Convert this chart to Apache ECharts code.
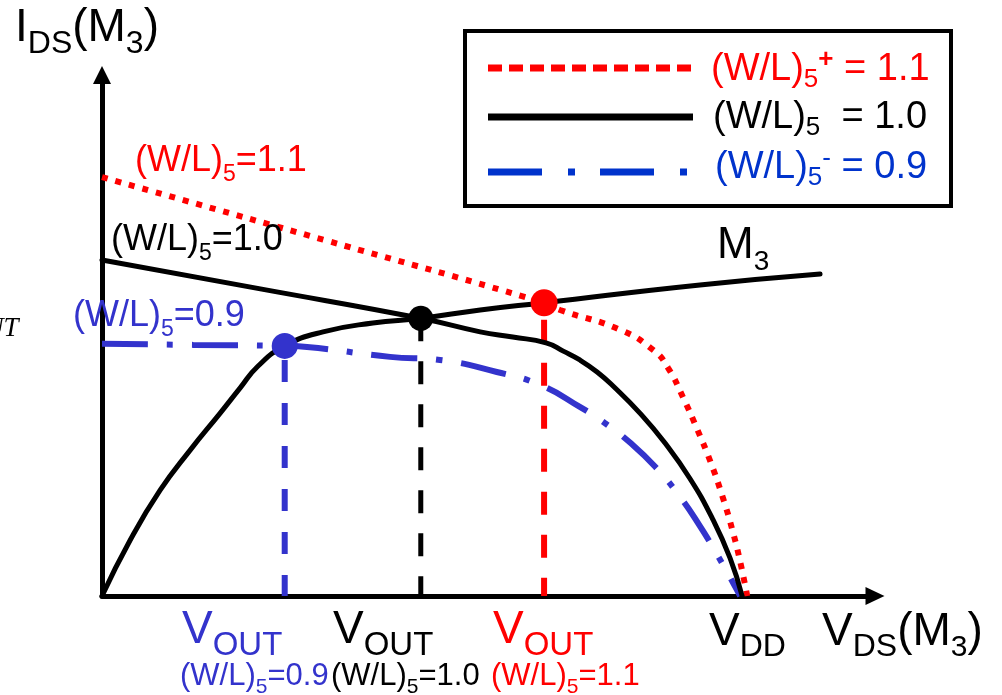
<!DOCTYPE html>
<html>
<head>
<meta charset="utf-8">
<script src="https://cdn.jsdelivr.net/npm/echarts@6/dist/echarts.min.js"></script>
<style>
  html, body { margin: 0; padding: 0; background: #fff; }
  #chart { width: 1002px; height: 695px; }
</style>
</head>
<body>
<div id="chart"></div>
<script>
// Axis extents: V_DS in units of V_DD, I_DS normalised
const X_MAX = 1.21;
const Y_MAX = 1.0;

// M3 output characteristic [V_DS, I_DS]
const m3Curve = [
  [0, 0], [0.044, 0.107], [0.091, 0.203], [0.138, 0.280], [0.185, 0.351],
  [0.216, 0.399], [0.244, 0.441], [0.286, 0.480], [0.346, 0.507],
  [0.424, 0.524], [0.499, 0.533], [0.592, 0.549], [0.692, 0.563], [0.936, 0.597],
  [1.124, 0.618]
];

// Load curves for the three (W/L)5 ratios
const load10 = [
  [0, 0.645], [0.250, 0.589], [0.499, 0.533], [0.592, 0.507], [0.643, 0.497],
  [0.695, 0.486], [0.722, 0.470], [0.748, 0.453], [0.775, 0.430], [0.800, 0.403],
  [0.842, 0.351], [0.881, 0.294], [0.920, 0.226], [0.955, 0.150], [0.983, 0.073],
  [1.002, 0]
];
const load11 = [
  [0, 0.804], [0.346, 0.684], [0.692, 0.563], [0.717, 0.549], [0.811, 0.511],
  [0.863, 0.472], [0.886, 0.438], [0.910, 0.380], [0.931, 0.322], [0.952, 0.259],
  [0.971, 0.192], [0.988, 0.121], [1.000, 0.060], [1.010, 0]
];
const load09 = [
  [0, 0.484], [0.143, 0.482], [0.286, 0.480], [0.321, 0.478], [0.451, 0.459],
  [0.529, 0.453], [0.618, 0.430], [0.686, 0.405], [0.748, 0.363], [0.787, 0.332],
  [0.827, 0.294], [0.866, 0.248], [0.905, 0.190], [0.936, 0.134], [0.964, 0.077],
  [0.988, 0.025], [0.999, 0]
];

// Operating points [V_OUT, I_DS]
const op09 = [0.286, 0.480];
const op10 = [0.499, 0.533];
const op11 = [0.692, 0.563];

const RED = '#ff0000';
const BLUE = '#3333cc';
const LBLUE = '#0033cc';
const BLACK = '#000000';
const SANS = '"Liberation Sans", Arial, sans-serif';
const SERIF = '"Liberation Serif", "Times New Roman", serif';

// Text with sub/superscripts: parts = [text, size, baselineShift, weight]
const measureCtx = document.createElement('canvas').getContext('2d');
function label(x, baseline, color, parts, family, fontStyle) {
  family = family || SANS;
  fontStyle = fontStyle || 'normal';
  const children = [];
  let cx = 0;
  parts.forEach(function (p) {
    const txt = p[0], size = p[1], dy = p[2] || 0, weight = p[3] || 'normal';
    measureCtx.font = fontStyle + ' ' + weight + ' ' + size + 'px ' + family;
    children.push({
      type: 'text',
      x: cx,
      y: dy - 0.33 * size,
      z: 100,
      silent: true,
      style: {
        text: txt, fill: color, fontSize: size, fontFamily: family,
        fontWeight: weight, fontStyle: fontStyle,
        align: 'left', verticalAlign: 'middle'
      }
    });
    cx += measureCtx.measureText(txt).width;
  });
  return { type: 'group', x: x, y: baseline, children: children };
}

function dropLine(pt, color, width, dash, offset) {
  return {
    type: 'line', data: [[pt[0], pt[1]], [pt[0], 0]],
    symbol: 'none', silent: true, z: 2,
    lineStyle: { color: color, width: width, type: dash, dashOffset: offset, cap: 'butt' }
  };
}

function curve(data, z, lineStyle) {
  return {
    type: 'line', data: data, smooth: 0.5, symbol: 'none', silent: true, z: z,
    lineStyle: lineStyle
  };
}

const chart = echarts.init(document.getElementById('chart'), null, { renderer: 'canvas' });

const axisCommon = {
  type: 'value', min: 0,
  axisLine: { show: true, onZero: false, symbol: ['none', 'triangle'],
              lineStyle: { color: BLACK, width: 5 } },
  axisTick: { show: false }, axisLabel: { show: false }, splitLine: { show: false }
};

chart.setOption({
  animation: false,
  backgroundColor: '#ffffff',
  grid: { left: 102, right: 127, top: 75, bottom: 99, containLabel: false },
  xAxis: Object.assign({}, axisCommon, { max: X_MAX,
    axisLine: Object.assign({}, axisCommon.axisLine, { symbolSize: [18, 19] }) }),
  yAxis: Object.assign({}, axisCommon, { max: Y_MAX,
    axisLine: Object.assign({}, axisCommon.axisLine, { symbolSize: [18, 18] }) }),
  series: [
    dropLine(op09, BLUE, 6, [22, 21], 29),
    dropLine(op10, BLACK, 5, [23, 20], 0),
    dropLine(op11, RED, 6, [23, 20], 26),
    curve(load11, 3, { color: RED, width: 6, type: [6, 8], cap: 'butt' }),
    curve(load09, 3, { color: BLUE, width: 6, type: [46, 19, 6, 19], cap: 'butt' }),
    curve(load10, 4, { color: BLACK, width: 5, cap: 'round', join: 'round' }),
    curve(m3Curve, 4, { color: BLACK, width: 5, cap: 'round', join: 'round' }),
    {
      type: 'scatter', silent: true, z: 6,
      data: [
        { value: op09, symbolSize: 26, itemStyle: { color: BLUE, opacity: 1 } },
        { value: op10, symbolSize: 25, itemStyle: { color: BLACK, opacity: 1 } },
        { value: op11, symbolSize: 27, itemStyle: { color: RED, opacity: 1 } }
      ]
    }
  ],
  graphic: [
    // axis titles
    label(15, 43, BLACK, [['I', 46], ['DS', 32, 12], ['(M', 46], ['3', 32, 12], [')', 46]]),
    label(822, 647, BLACK, [['V', 46], ['DS', 32, 11], ['(M', 46], ['3', 30, 11], [')', 46]]),
    label(709, 647, BLACK, [['V', 46], ['DD', 32, 11]]),
    // operating-point labels on the V_DS axis
    label(182, 645, BLUE, [['V', 46], ['OUT', 33, 12]]),
    label(333, 645, BLACK, [['V', 46], ['OUT', 33, 12]]),
    label(493, 645, RED, [['V', 46], ['OUT', 33, 12]]),
    label(180, 687, BLUE, [['(W/L)', 31], ['5', 21, 7], ['=0.9', 31]]),
    label(331, 687, BLACK, [['(W/L)', 31], ['5', 21, 7], ['=1.0', 31]]),
    label(491, 687, RED, [['(W/L)', 31], ['5', 21, 7], ['=1.1', 31]]),
    // curve labels
    label(135, 173, RED, [['(W/L)', 36], ['5', 23, 9], ['=1.1', 36]]),
    label(111, 252, BLACK, [['(W/L)', 36], ['5', 23, 9], ['=1.0', 36]]),
    label(73, 328, BLUE, [['(W/L)', 36], ['5', 23, 9], ['=0.9', 36]]),
    label(717, 260, BLACK, [['M', 44], ['3', 28, 12]]),
    label(-16, 338, BLACK, [['UT', 27]], SERIF, 'italic'),
    // legend box
    {
      type: 'rect', z: 90, silent: true,
      shape: { x: 465, y: 31, width: 486, height: 175 },
      style: { fill: '#ffffff', stroke: BLACK, lineWidth: 4 }
    },
    {
      type: 'line', z: 95, silent: true,
      shape: { x1: 488, y1: 68, x2: 693, y2: 68 },
      style: { stroke: RED, lineWidth: 7, lineDash: [14, 7], lineCap: 'butt' }
    },
    {
      type: 'line', z: 95, silent: true,
      shape: { x1: 488, y1: 117, x2: 693, y2: 117 },
      style: { stroke: BLACK, lineWidth: 7, lineCap: 'butt' }
    },
    {
      type: 'line', z: 95, silent: true,
      shape: { x1: 488, y1: 172, x2: 693, y2: 172 },
      style: { stroke: LBLUE, lineWidth: 7, lineDash: [54, 26, 7, 25], lineCap: 'butt' }
    },
    label(711, 82, RED, [['(W/L)', 38], ['5', 26, 6], ['+', 26, -14, 'bold'], [' = 1.1', 38]]),
    label(713, 130, BLACK, [['(W/L)', 38], ['5', 26, 6], ['  = 1.0', 38]]),
    label(715, 180, LBLUE, [['(W/L)', 38], ['5', 26, 6], ['-', 26, -13], [' = 0.9', 38]])
  ]
});
</script>
</body>
</html>
